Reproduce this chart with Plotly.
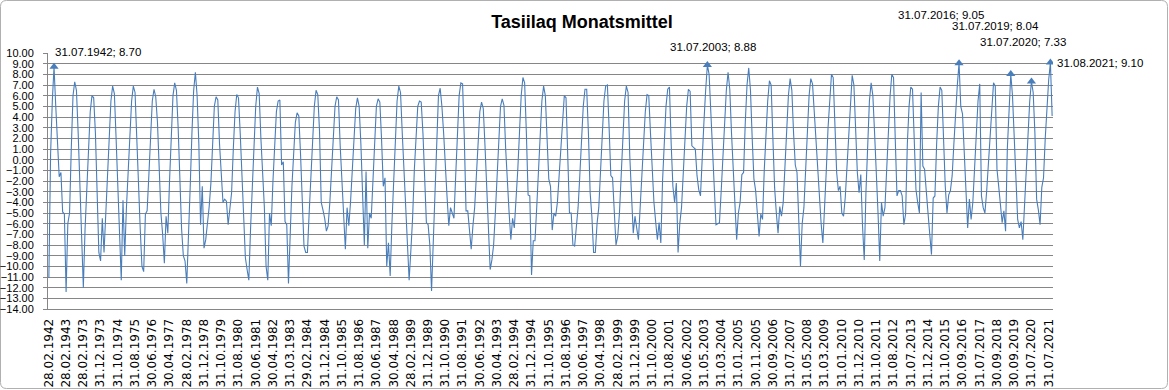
import calendar
import plotly.graph_objects as go

# Monthly mean temperatures (Jan..Dec), None = month not in the series
t1942 = [None, -11.1, None, None, 0.5, 5.5, 8.70, 5.0, 1.0, -1.6, -1.2, -4.9]
t1943 = [-5.1, -12.4, -6.0, -5.0, 1.0, 6.0, 7.3, 6.5, 2.5, -2.0, None, None]
t1973 = [-7.0, -12.0, -6.5, -2.5, 1.0, 4.5, 6.0, 5.8, 2.5, -2.5, -8.7, -9.5]
t1974 = [-5.5, -8.7, -5.0, -1.0, 2.5, 5.5, 6.9, 6.2, 2.0, -2.5, -6.5, -11.3]
t1975 = [-3.8, -9.0, -4.5, -1.0, 2.5, 5.5, 6.9, 6.3, 2.0, -3.0, -6.5, -10.0]
t1976 = [-10.5, -5.1, -4.8, -1.5, 2.0, 5.5, 6.6, 5.9, 3.5, -1.5, -5.0, -7.0]
t1977 = [-9.7, -5.3, -6.9, -2.0, 2.5, 6.0, 7.2, 6.5, 3.0, -2.0, -6.5, -9.0]
t1978 = [-9.5, -11.6, -6.0, -2.5, 2.5, 6.5, 8.2, 6.0, 1.5, -6.1, -2.5, -8.3]
t1979 = [-7.5, -6.0, -4.4, -2.2, 1.5, 5.0, 5.9, 5.6, 1.5, -1.5, -4.0, -3.7]
t1980 = [-3.9, -6.1, -4.5, -3.1, 1.0, 4.5, 6.1, 5.8, 2.5, -2.0, -5.5, -9.2]
t1981 = [-10.3, -11.3, -6.5, -2.5, 1.5, 5.0, 6.8, 6.2, 2.0, -1.0, -4.4, -10.0]
t1982 = [-11.3, -5.0, -6.2, -2.0, 1.5, 4.5, 5.5, 5.6, -0.5, -0.2, -5.8, None]
t1983 = [-6.1, -11.6, -6.0, -2.5, 0.5, 3.5, 4.4, 4.1, 0.5, -4.0, None, -8.1]
t1984 = [-8.7, -8.7, -5.0, -1.5, 2.0, 5.0, 6.5, 6.1, 2.7, -4.0, -4.7, -5.5]
t1985 = [-6.7, -6.2, -4.0, -1.0, 2.5, 5.0, 5.9, 5.6, 1.3, -2.2, -5.5, -8.4]
t1986 = [-4.5, -6.2, -4.0, -1.0, 2.0, 4.8, 5.8, 5.0, 1.5, -3.4, -8.0, -1.1]
t1987 = [-8.3, -5.0, -5.5, -2.0, 1.5, 5.0, 5.7, 5.4, 1.9, -2.5, -1.7, -10.0]
t1988 = [-7.8, -10.9, -6.0, -2.5, 2.0, 5.5, 6.9, 6.3, 2.5, -1.2, -4.5, -7.5]
t1989 = [-11.3, -8.5, -5.5, -1.0, 2.5, 5.0, 5.5, 5.4, 2.5, -1.2, -5.9, -6.1]
t1990 = [-8.0, -12.3, -7.5, -2.0, 2.5, 6.0, 6.7, 5.0, 2.5, -1.2, -3.5, -6.2]
t1991 = [-4.5, -5.0, -5.5, -1.5, 2.5, 6.0, 7.2, 7.1, 2.0, -4.8, -4.8, -6.5]
t1992 = [-8.4, -6.2, -4.5, -1.5, 2.0, 4.5, 5.4, 4.8, 1.3, -2.5, -6.5, -10.3]
t1993 = [-9.4, -8.0, -5.0, -1.5, 2.0, 5.0, 5.7, 5.1, 1.0, -2.5, -5.0, -7.5]
t1994 = [-5.5, -6.4, -4.0, -1.0, 2.5, 6.0, 7.7, 7.2, 2.5, -3.3, -3.4, -10.8]
t1995 = [-7.6, -7.6, -4.5, -1.0, 2.5, 5.5, 6.9, 6.0, 2.0, -1.8, -2.5, -6.6]
t1996 = [-5.0, -5.3, -4.0, -1.5, 1.5, 4.5, 6.0, 5.8, 0.5, -5.0, -5.0, -8.0]
t1997 = [-8.1, -6.5, -4.5, -1.5, 2.0, 5.0, 6.6, 6.6, 2.5, -3.1, -5.3, -8.7]
t1998 = [-8.7, -6.0, -4.5, -1.0, 2.5, 5.5, 6.9, 7.0, 3.0, -1.5, -1.7, -5.3]
t1999 = [-8.0, -7.2, -5.0, -1.5, 2.0, 5.5, 6.9, 6.3, 0.3, -4.0, -6.9, -5.3]
t2000 = [-6.2, -7.5, -4.5, -1.5, 2.0, 4.5, 6.1, 6.0, 2.5, -1.2, -4.0, -5.8]
t2001 = [-7.5, -5.9, -7.8, -2.0, 2.0, 5.0, 6.6, 6.8, 1.5, -2.5, -4.0, -2.2]
t2002 = [-8.7, -6.0, -4.5, -1.5, 2.0, 5.0, 6.6, 6.4, 1.3, 1.1, 1.0, -1.5]
t2003 = [-2.8, -3.4, None, 0.5, 3.5, 6.5, 8.88, 8.0, 4.5, 1.9, -2.5, -6.1]
t2004 = [-6.0, -5.9, -3.0, 0.5, 4.1, 6.5, 8.2, 6.6, 2.5, -1.0, -4.5, -7.5]
t2005 = [-5.0, -4.0, -1.4, -1.2, 3.5, 7.0, 8.6, 6.5, 2.0, -1.8, -2.9, -5.5]
t2006 = [-7.2, -5.1, -5.6, -1.0, 2.5, 5.5, 7.4, 7.0, 2.0, -2.6, -5.0, -6.9]
t2007 = [-4.4, -5.3, -4.0, -1.0, 2.5, 6.0, 7.6, 6.5, 2.5, -0.5, -1.2, -6.0]
t2008 = [-10.0, -6.0, -4.5, -1.0, 3.0, 6.0, 7.6, 7.1, 4.5, 1.9, -1.5, -4.2]
t2009 = [-6.0, -7.8, -5.0, -1.0, 3.0, 6.0, 8.0, 7.7, 3.0, -1.2, -2.9, -2.5]
t2010 = [-5.0, -5.3, -3.5, -0.5, 3.0, 6.0, 7.9, 7.0, 3.5, -1.2, None, -3.1]
t2011 = [-1.4, -6.2, -9.4, -3.0, 2.0, 5.5, 7.2, 6.0, 2.5, -0.6, -5.0, -9.5]
t2012 = [-4.0, -5.3, -4.5, -1.0, 3.0, 6.0, 8.0, 7.7, 1.9, -3.4, -2.9, -2.9]
t2013 = [-3.4, -6.1, -5.1, None, 1.5, 5.0, 6.8, 6.6, 1.0, -2.8, -4.0, -5.0]
t2014 = [None, None, None, None, None, None, 6.3, None, -0.6, -0.9, -3.5, -5.0]
t2015 = [-7.0, -8.9, -3.6, -3.4, 1.5, 5.0, 6.8, 6.5, 2.0, -2.5, -5.0, -3.3]
t2016 = [-2.9, None, -1.5, 1.5, 4.5, 7.0, 9.05, 5.0, 4.3, 1.0, -2.5, -6.4]
t2017 = [-3.7, -5.6, -4.0, -1.0, 2.5, 5.5, 7.1, None, None, -3.4, -4.5, -5.0]
t2018 = [None, None, -3.0, -0.5, 2.5, 5.0, 7.2, 6.9, -0.9, -2.5, -4.0, -5.9]
t2019 = [-4.8, -6.7, None, None, 1.0, 4.5, 8.04, 6.0, 2.0, -2.0, -5.6, -6.4]
t2020 = [-5.8, -7.5, -4.0, -1.0, 2.5, 5.5, 7.33, 6.3, 2.5, -3.7, -4.7, -6.1]
t2021 = [None, None, -2.6, -1.7, 2.0, 5.0, 7.5, 9.10, 4.1, None, None, None]

series = [
    (1942, t1942), (1943, t1943), (1973, t1973), (1974, t1974), (1975, t1975),
    (1976, t1976), (1977, t1977), (1978, t1978), (1979, t1979), (1980, t1980),
    (1981, t1981), (1982, t1982), (1983, t1983), (1984, t1984), (1985, t1985),
    (1986, t1986), (1987, t1987), (1988, t1988), (1989, t1989), (1990, t1990),
    (1991, t1991), (1992, t1992), (1993, t1993), (1994, t1994), (1995, t1995),
    (1996, t1996), (1997, t1997), (1998, t1998), (1999, t1999), (2000, t2000),
    (2001, t2001), (2002, t2002), (2003, t2003), (2004, t2004), (2005, t2005),
    (2006, t2006), (2007, t2007), (2008, t2008), (2009, t2009), (2010, t2010),
    (2011, t2011), (2012, t2012), (2013, t2013), (2014, t2014), (2015, t2015),
    (2016, t2016), (2017, t2017), (2018, t2018), (2019, t2019), (2020, t2020),
    (2021, t2021),
]

tick_labels = [
    "28.02.1942", "28.02.1943", "28.02.1973", "31.12.1973", "31.10.1974", "31.08.1975",
    "30.06.1976", "30.04.1977", "28.02.1978", "31.12.1978", "31.10.1979", "31.08.1980",
    "30.06.1981", "30.04.1982", "31.03.1983", "29.02.1984", "31.12.1984", "31.10.1985",
    "31.08.1986", "30.06.1987", "30.04.1988", "28.02.1989", "31.12.1989", "31.10.1990",
    "31.08.1991", "30.06.1992", "30.04.1993", "28.02.1994", "31.12.1994", "31.10.1995",
    "31.08.1996", "30.06.1997", "30.04.1998", "28.02.1999", "31.12.1999", "31.10.2000",
    "31.08.2001", "30.06.2002", "31.05.2003", "31.03.2004", "31.01.2005", "30.11.2005",
    "30.09.2006", "31.07.2007", "31.05.2008", "31.03.2009", "31.01.2010", "31.12.2010",
    "31.10.2011", "31.08.2012", "31.07.2013", "31.12.2014", "31.10.2015", "30.09.2016",
    "31.07.2017", "30.09.2018", "30.09.2019", "31.07.2020", "31.07.2021",
]

# labelled extremes: (category, label anchor, xshift, yshift)
highlight = [
    ("31.07.1942", "left", -1, 14.5),
    ("31.07.2003", "center", 6, 18.4),
    ("31.07.2016", "center", -18, 48.4),
    ("31.07.2019", "center", -15.7, 47.5),
    ("31.07.2020", "center", -8.7, 39.7),
    ("31.08.2021", "left", 4.3, -0.7),
]

dates, temps = [], []
for year, vals in series:
    for m, v in enumerate(vals, start=1):
        if v is None:
            continue
        last = calendar.monthrange(year, m)[1]
        dates.append(f"{last:02d}.{m:02d}.{year}")
        temps.append(v)

LINE = "#4a7ebb"
GRID = "#868686"
FONT = "Liberation Sans"

fig = go.Figure()
fig.add_trace(go.Scatter(
    x=dates, y=temps, mode="lines",
    line=dict(color=LINE, width=1.1),
    hoverinfo="x+y", showlegend=False,
))

hx = [h[0] for h in highlight]
hy = [temps[dates.index(h[0])] for h in highlight]
fig.add_trace(go.Scatter(
    x=hx, y=hy, mode="markers",
    marker=dict(symbol="triangle-up", size=8, color=LINE),
    showlegend=False, hoverinfo="skip",
))

for (cat, anchor, xs, ys), val in zip(highlight, hy):
    fig.add_annotation(
        x=cat, y=val, text=f"{cat}; {val:.2f}", showarrow=False,
        xanchor=anchor, yanchor="middle", xshift=xs, yshift=ys,
        font=dict(family=FONT, size=11.5, color="#000000"),
    )

ML, MR, MT, MB = 48, 116, 53, 81
W, H = 1169, 390
pw, ph = W - ML - MR, H - MT - MB

# chart-area border with rounded corners (pixel coords -> paper coords)
def px(x):
    return (x - ML) / pw

def py(y):
    return (H - MB - y) / ph

bx0, bx1, by0, by1, r = 0.5, 1167.5, 0.5, 388.5, 6
border = (
    f"M {px(bx0 + r)} {py(by0)} L {px(bx1 - r)} {py(by0)} "
    f"Q {px(bx1)} {py(by0)} {px(bx1)} {py(by0 + r)} "
    f"L {px(bx1)} {py(by1 - r)} Q {px(bx1)} {py(by1)} {px(bx1 - r)} {py(by1)} "
    f"L {px(bx0 + r)} {py(by1)} Q {px(bx0)} {py(by1)} {px(bx0)} {py(by1 - r)} "
    f"L {px(bx0)} {py(by0 + r)} Q {px(bx0)} {py(by0)} {px(bx0 + r)} {py(by0)} Z"
)

fig.update_layout(
    width=W, height=H,
    margin=dict(l=ML, r=MR, t=MT, b=MB, pad=0),
    paper_bgcolor="white", plot_bgcolor="white",
    font=dict(family=FONT, color="#000000"),
    title=dict(
        text="<b>Tasiilaq Monatsmittel</b>",
        x=582 / W, y=1 - 22 / H, xref="container", yref="container",
        xanchor="center", yanchor="middle",
        font=dict(family=FONT, size=18, color="#000000"),
    ),
    xaxis=dict(
        type="category", categoryorder="array", categoryarray=dates,
        range=[-0.5, len(dates) - 0.5],
        tickmode="array", tickvals=tick_labels, ticktext=tick_labels,
        tickangle=-90, tickfont=dict(family="DejaVu Sans", size=12, color="#000000"),
        showgrid=False, showline=True, linecolor=GRID, linewidth=1,
        ticks="", zeroline=False, automargin=False, ticklabelstandoff=4,
    ),
    yaxis=dict(
        range=[-14, 10], dtick=1, tick0=0, tickformat=".2f",
        tickfont=dict(family=FONT, size=11, color="#000000"),
        showgrid=True, gridcolor=GRID, gridwidth=1,
        showline=True, linecolor=GRID, linewidth=1,
        ticks="outside", ticklen=4, tickcolor=GRID,
        zeroline=False, automargin=False, ticklabelstandoff=7,
    ),
    shapes=[dict(
        type="path", xref="paper", yref="paper", path=border,
        line=dict(color="#b0b0b0", width=1), fillcolor="rgba(0,0,0,0)",
        layer="below",
    )],
)

fig.write_html(
    "out.html",
    config={"displayModeBar": False},
    post_script="document.body.style.margin='0';document.body.style.overflow='hidden';",
)
